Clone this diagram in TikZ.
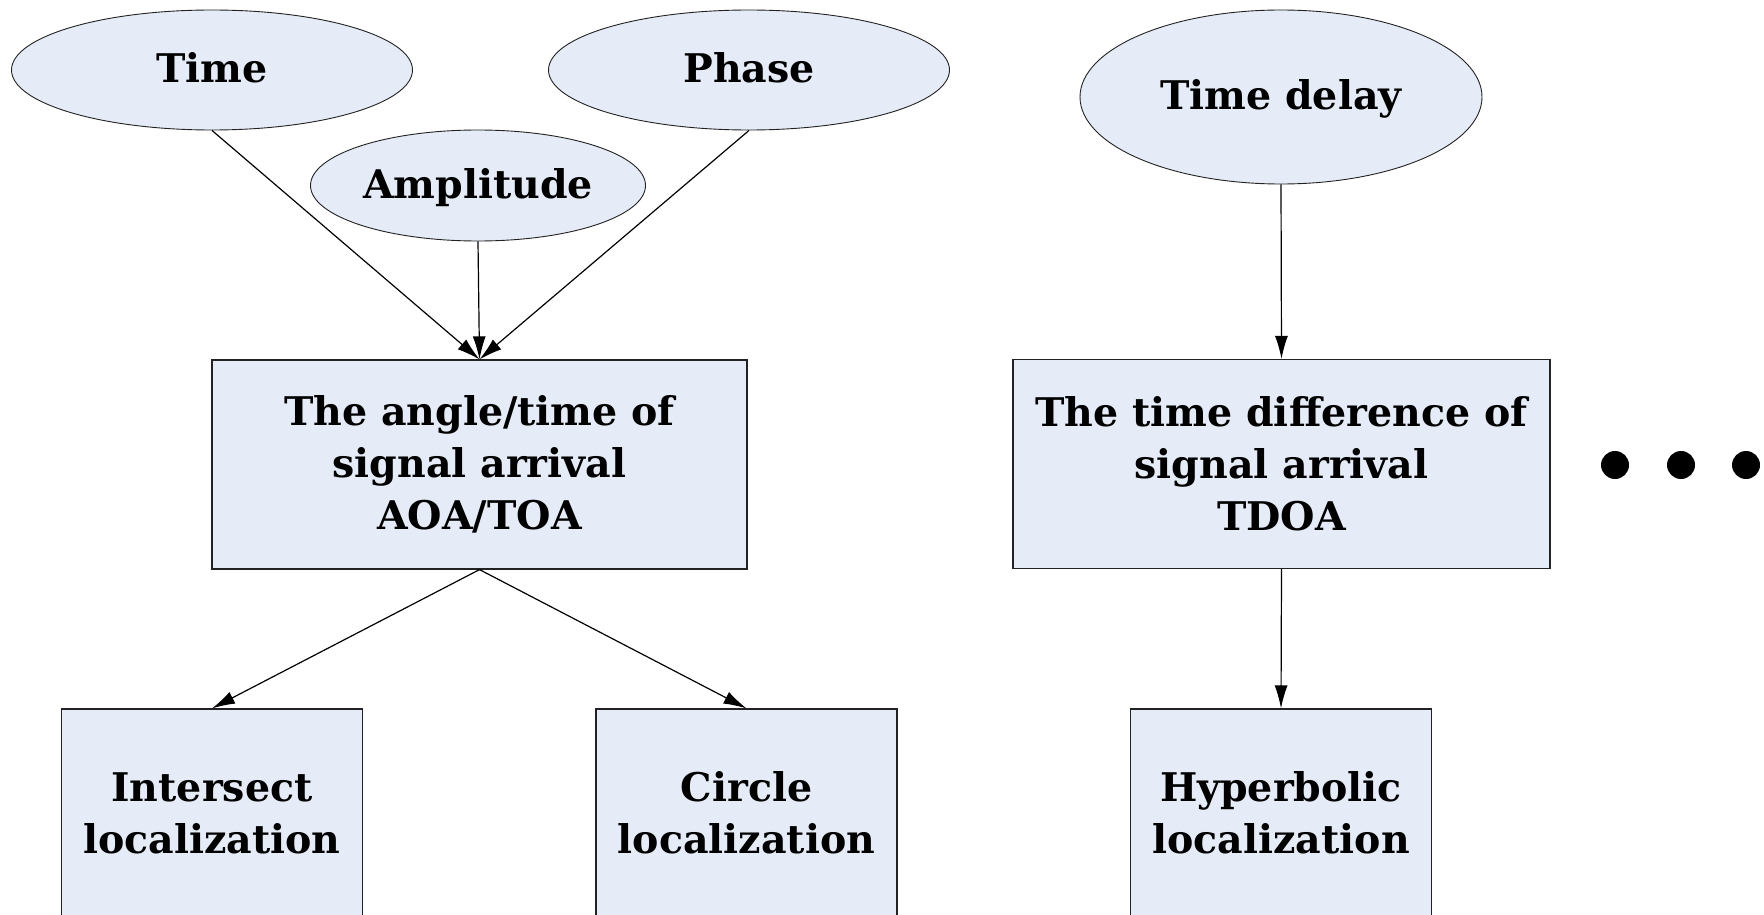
\documentclass[tikz,border=0pt]{standalone}
\usepackage{fontspec}
\setmainfont{DejaVu Serif}
\usetikzlibrary{shapes.geometric,arrows.meta}
\definecolor{boxfill}{HTML}{E6ECF7}
\definecolor{edge}{HTML}{222222}
\begin{document}
\begin{tikzpicture}[x=1pt,y=-1pt,
  every node/.style={font=\fontsize{39.5}{52}\selectfont\bfseries},
  oval/.style={ellipse,draw=edge,line width=0.9pt,fill=boxfill,inner sep=0pt,text height=26pt,text depth=0pt},
  blk/.style={rectangle,draw=edge,line width=1.2pt,fill=boxfill,inner sep=0pt,align=center},
  conn/.style={draw=black,line width=1.2pt,-{Latex[length=23pt,width=13pt]}},
  dotc/.style={circle,fill=black,minimum size=28pt,inner sep=0pt}]
\useasboundingbox (0,0) rectangle (1764,915);
\node[oval,minimum width=401pt,minimum height=120pt] (time) at (212,70) {Time};
\node[oval,minimum width=401pt,minimum height=120pt] (phase) at (749,70) {Phase};
\node[oval,minimum width=335pt,minimum height=111pt] (amp) at (478,185.5) {Amplitude};
\node[oval,minimum width=402pt,minimum height=174pt] (delay) at (1281,97) {Time delay};
\node[blk,minimum width=535pt,minimum height=209pt] (aoa) at (479.5,464.5) {The angle/time of\\signal arrival\\AOA/TOA};
\node[blk,minimum width=537pt,minimum height=209pt] (tdoa) at (1281.5,464) {The time difference of\\signal arrival\\TDOA};
\node[blk,minimum width=301pt,minimum height=208pt] (inter) at (212,813) {Intersect\\localization};
\node[blk,minimum width=301pt,minimum height=208pt] (circ) at (746.5,813) {Circle\\localization};
\node[blk,minimum width=301pt,minimum height=208pt] (hyper) at (1281,813) {Hyperbolic\\localization};
\node[dotc] (d1) at (1615,465) {};
\node[dotc] (d2) at (1681,465) {};
\node[dotc] (d3) at (1746,465) {};
\draw[conn] (time.south) -- (aoa.north);
\draw[conn] (amp.south) -- (aoa.north);
\draw[conn] (phase.south) -- (aoa.north);
\draw[conn] (aoa.south) -- (inter.north);
\draw[conn] (aoa.south) -- (circ.north);
\draw[conn] (delay.south) -- (tdoa.north);
\draw[conn] (tdoa.south) -- (hyper.north);
\end{tikzpicture}
\end{document}
